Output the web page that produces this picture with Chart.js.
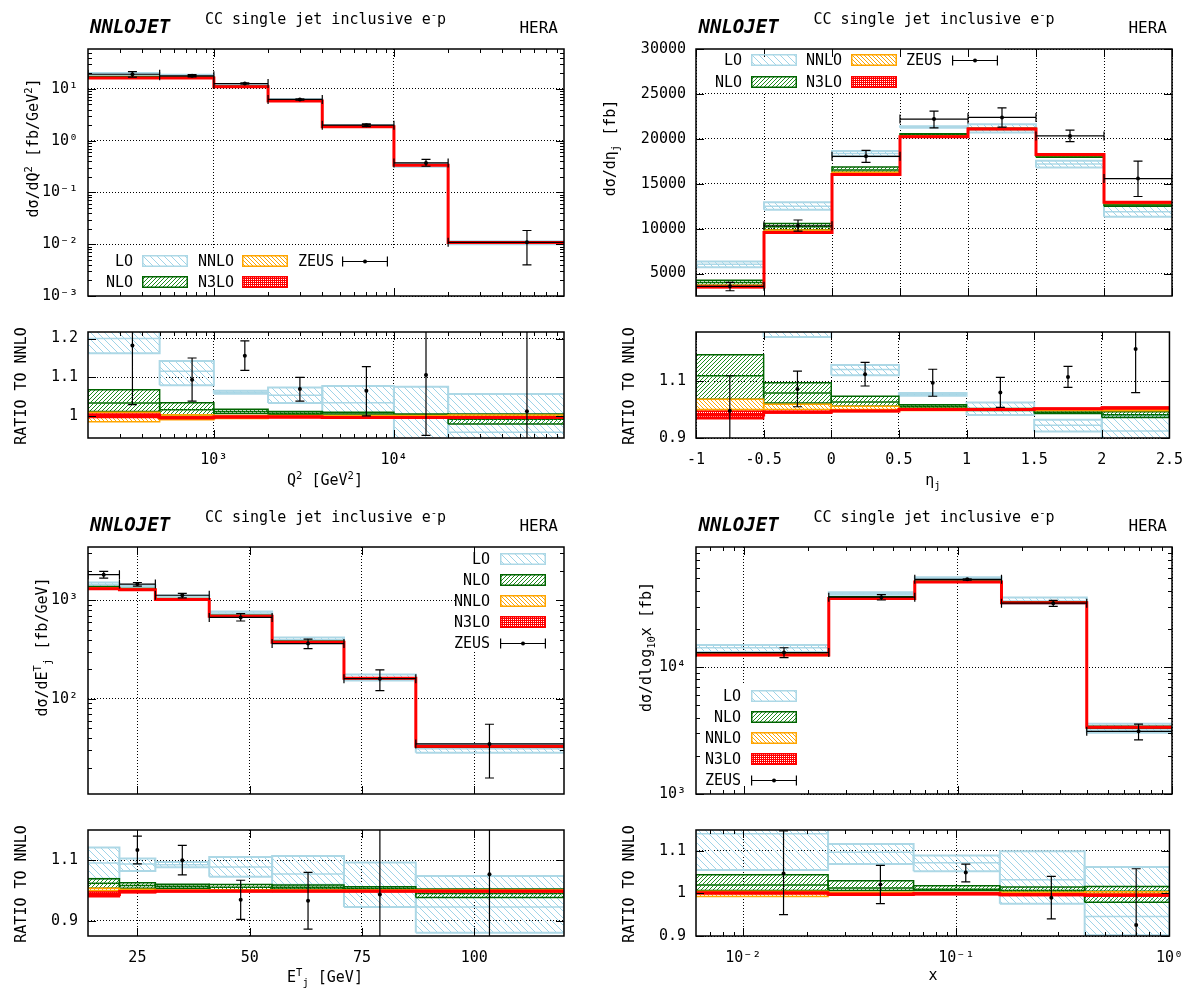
<!DOCTYPE html>
<html>
<head>
<meta charset="utf-8">
<title>CC single jet inclusive e-p</title>
<script src="https://cdn.jsdelivr.net/npm/chart.js@4.4.1/dist/chart.umd.min.js"></script>
<style>
  html, body { margin: 0; padding: 0; background: #fff; }
  body { position: relative; width: 1195px; height: 992px; overflow: hidden;
         font-family: 'DejaVu Sans Mono', monospace; font-size: 15px; color: #000; }
  .abs { position: absolute; white-space: nowrap; }
  .logo { font-weight: bold; font-style: italic; font-size: 19px; line-height: 19px; }
  .ttl { font-size: 15px; line-height: 15px; transform: translateX(-50%); }
  .hera { font-size: 16px; line-height: 16px; text-align: right; }
  .lab { line-height: 18px; height: 18px; text-align: right; }
  .rot { line-height: 18px; transform: translate(-50%, -50%) rotate(-90deg); }
  .ctr { line-height: 18px; transform: translate(-50%, -50%); }
  sup, sub { font-size: 70%; line-height: 0; }
  canvas { position: absolute; }
</style>
</head>
<body>
<script>
// ---------------- Q^2 panel ----------------
const q2Edges = [200, 500, 1000, 2000, 4000, 10000, 20000, 100000];
const q2XTicks = [1000, 10000];
const q2YTicks = [1e-3, 1e-2, 1e-1, 1, 10];
const q2RTicks = [1, 1.1, 1.2];
// [low, central, high] per bin
const q2LO   = [[18.9, 19.6, 20.2], [17.7, 18.3, 18.7], [11.6, 11.7, 11.75], [6.05, 6.17, 6.28], [1.88, 1.935, 2.016], [0.313, 0.337, 0.363], [0.01004, 0.01036, 0.01142]];
const q2NLO  = [[16.5, 16.85, 17.4], [16.47, 16.68, 16.97], [11.08, 11.13, 11.2], [5.87, 5.9, 5.92], [1.874, 1.881, 1.889], [0.337, 0.338, 0.339], [0.01058, 0.01071, 0.01086]];
const q2NNLO = [[16.07, 16.3, 16.46], [16.25, 16.4, 16.47], [10.93, 11.0, 11.02], [5.83, 5.85, 5.86], [1.866, 1.87, 1.874], [0.336, 0.337, 0.338], [0.01077, 0.0108, 0.01083]];
const q2N3LO = [[16.25, 16.33, 16.4], [16.3, 16.33, 16.37], [10.96, 10.98, 11.0], [5.83, 5.84, 5.85], [1.863, 1.866, 1.87], [0.3357, 0.3363, 0.337], [0.01076, 0.01078, 0.0108]];
const q2LOr   = [[1.162, 1.2, 1.24], [1.08, 1.116, 1.142], [1.058, 1.062, 1.066], [1.034, 1.054, 1.074], [1.005, 1.035, 1.078], [0.93, 1.0, 1.076], [0.93, 0.959, 1.057]];
const q2NLOr  = [[1.012, 1.034, 1.068], [1.004, 1.017, 1.035], [1.007, 1.012, 1.018], [1.004, 1.008, 1.012], [1.002, 1.006, 1.010], [1.0, 1.003, 1.006], [0.98, 0.992, 1.006]];
const q2NNLOr = [[0.986, 1.0, 1.010], [0.991, 1.0, 1.004], [0.994, 1.0, 1.002], [0.997, 1.0, 1.002], [0.998, 1.0, 1.002], [0.998, 1.0, 1.002], [0.997, 1.0, 1.003]];
const q2N3LOr = [[0.997, 1.002, 1.006], [0.994, 0.996, 0.998], [0.996, 0.998, 1.0], [0.996, 0.998, 1.0], [0.995, 0.997, 0.999], [0.995, 0.997, 0.999], [0.995, 0.997, 0.999]];
const q2ZeusX = [353, 757, 1486, 3005, 7030, 15070, 54800];
// [value, low, high]
const q2Zeus  = [[19.2, 16.9, 21.6], [17.9, 17.0, 18.9], [12.7, 12.3, 13.1], [6.26, 6.08, 6.44], [1.99, 1.87, 2.11], [0.372, 0.321, 0.434], [0.0109, 0.0040, 0.0184]];
const q2ZeusR = [[1.182, 1.03, 1.36], [1.094, 1.039, 1.15], [1.156, 1.118, 1.194], [1.07, 1.039, 1.10], [1.066, 1.001, 1.128], [1.106, 0.951, 1.26], [1.013, 0.37, 1.70]];

// ---------------- eta_j panel ----------------
const etaEdges = [-1, -0.5, 0, 0.5, 1, 1.5, 2, 2.5];
const etaXTicks = [-1, -0.5, 0, 0.5, 1, 1.5, 2, 2.5];
const etaYTicks = [5000, 10000, 15000, 20000, 25000, 30000];
const etaRTicks = [0.9, 1.1];
const etaLO   = [[5709, 6028, 6348], [12100, 12500, 12950], [18050, 18370, 18630], [21220, 21300, 21400], [20700, 21160, 21630], [16800, 17200, 17545], [11310, 11890, 12570]];
const etaNLO  = [[3700, 3995, 4260], [9880, 10220, 10570], [16290, 16530, 16860], [20350, 20470, 20570], [21040, 21100, 21180], [17950, 18040, 18130], [12490, 12620, 12750]];
const etaNNLO = [[3550, 3570, 3700], [9580, 9660, 9840], [15990, 16100, 16290], [20170, 20230, 20310], [21060, 21100, 21140], [18150, 18200, 18250], [12800, 12850, 12900]];
const etaN3LO = [[3455, 3500, 3550], [9545, 9575, 9600], [15990, 16020, 16050], [20190, 20230, 20270], [21060, 21100, 21140], [18220, 18255, 18290], [12890, 12925, 12965]];
const etaLOr   = [[1.6, 1.69, 1.78], [1.255, 1.295, 1.34], [1.121, 1.141, 1.157], [1.049, 1.053, 1.058], [0.981, 1.003, 1.025], [0.923, 0.945, 0.964], [0.88, 0.925, 0.978]];
const etaNLOr  = [[1.036, 1.119, 1.193], [1.023, 1.058, 1.094], [1.012, 1.027, 1.047], [1.006, 1.012, 1.017], [0.997, 1.0, 1.004], [0.986, 0.991, 0.996], [0.972, 0.982, 0.992]];
const etaNNLOr = [[0.994, 1.0, 1.036], [0.992, 1.0, 1.019], [0.993, 1.0, 1.012], [0.997, 1.0, 1.004], [0.998, 1.0, 1.002], [0.997, 1.0, 1.003], [0.996, 1.0, 1.004]];
const etaN3LOr = [[0.968, 0.981, 0.994], [0.988, 0.991, 0.994], [0.993, 0.995, 0.997], [0.998, 1.0, 1.002], [0.998, 1.0, 1.002], [1.001, 1.003, 1.005], [1.003, 1.006, 1.009]];
const etaZeusX = [-0.75, -0.25, 0.25, 0.75, 1.25, 1.75, 2.25];
const etaZeus  = [[3580, 3085, 4010], [10320, 9720, 10960], [18050, 17380, 18720], [22200, 21210, 23090], [22380, 21310, 23440], [20320, 19680, 20960], [15570, 13580, 17520]];
const etaZeusR = [[0.996, 0.86, 1.119], [1.072, 1.01, 1.135], [1.124, 1.083, 1.166], [1.094, 1.047, 1.142], [1.06, 1.008, 1.113], [1.115, 1.078, 1.152], [1.213, 1.06, 1.37]];

// ---------------- E_T panel ----------------
const etEdges = [14, 21, 29, 41, 55, 71, 87, 120];
const etXTicks = [25, 50, 75, 100];
const etYTicks = [100, 1000];
const etRTicks = [0.9, 1.1];
const etLO   = [[1378, 1447, 1514], [1373, 1402, 1426], [1103, 1111, 1120], [723, 745, 768], [384, 398, 420], [153, 164, 177], [28.4, 31.2, 34.6]];
const etNLO  = [[1337, 1358, 1378], [1299, 1311, 1322], [1032, 1038, 1045], [693, 699, 705], [379, 381, 384], [162.2, 163.1, 164.1], [32.2, 32.7, 33.2]];
const etNNLO = [[1319, 1326, 1337], [1286, 1289, 1294], [1022, 1024, 1026], [690, 691, 692], [376, 377, 378], [161.7, 162, 162.3], [32.93, 33.0, 33.07]];
const etN3LO = [[1299, 1309, 1319], [1280, 1284, 1288], [1020, 1022, 1024], [688, 690, 691], [375.5, 376, 377], [161.4, 161.7, 162], [32.87, 32.93, 33.0]];
const etLOr   = [[1.039, 1.091, 1.142], [1.065, 1.088, 1.106], [1.077, 1.085, 1.094], [1.046, 1.078, 1.111], [1.019, 1.055, 1.114], [0.946, 1.013, 1.093], [0.861, 0.946, 1.048]];
const etNLOr  = [[1.008, 1.024, 1.039], [1.008, 1.017, 1.026], [1.008, 1.014, 1.021], [1.003, 1.011, 1.02], [1.005, 1.011, 1.018], [1.001, 1.007, 1.013], [0.977, 0.99, 1.005]];
const etNNLOr = [[0.995, 1.0, 1.008], [0.998, 1.0, 1.004], [0.998, 1.0, 1.002], [0.998, 1.0, 1.002], [0.998, 1.0, 1.002], [0.998, 1.0, 1.002], [0.998, 1.0, 1.002]];
const etN3LOr = [[0.98, 0.987, 0.995], [0.993, 0.996, 0.999], [0.996, 0.998, 1.0], [0.996, 0.998, 1.0], [0.996, 0.998, 1.0], [0.996, 0.998, 1.0], [0.996, 0.998, 1.0]];
const etZeusX = [17.5, 25, 35, 48, 63, 79, 103.4];
const etZeus  = [[1824, 1683, 1966], [1462, 1397, 1517], [1126, 1061, 1178], [670, 617, 733], [364, 324, 404], [160, 121, 197], [34.8, 15.7, 55.2]];
const etZeusR = [[1.375, 1.27, 1.48], [1.134, 1.088, 1.18], [1.1, 1.052, 1.149], [0.97, 0.905, 1.034], [0.966, 0.873, 1.06], [0.987, 0.70, 1.30], [1.054, 0.60, 1.50]];

// ---------------- x panel ----------------
const xEdges = [0.006, 0.025, 0.063, 0.16, 0.4, 1.0];
const xXTicks = [0.01, 0.1, 1];
const xYTicks = [1000, 10000];
const xRTicks = [0.9, 1, 1.1];
const xLO   = [[13140, 14200, 14950], [37240, 38220, 38880], [49340, 50280, 51070], [31450, 33250, 35410], [3040, 3190, 3580]];
const xNLO  = [[12540, 12700, 13000], [35080, 35290, 35890], [47230, 47370, 47740], [32320, 32450, 32700], [3300, 3387, 3424]];
const xNNLO = [[12370, 12455, 12520], [34740, 34840, 34940], [46810, 46900, 46990], [32120, 32220, 32320], [3357, 3370, 3383]];
const xN3LO = [[12440, 12470, 12490], [34700, 34770, 34840], [46760, 46850, 46950], [32060, 32120, 32190], [3350, 3357, 3363]];
const xLOr   = [[1.055, 1.14, 1.2], [1.069, 1.097, 1.116], [1.052, 1.072, 1.089], [0.976, 1.032, 1.099], [0.902, 0.946, 1.062]];
const xNLOr  = [[1.007, 1.02, 1.044], [1.007, 1.013, 1.03], [1.007, 1.01, 1.018], [1.003, 1.007, 1.015], [0.979, 1.005, 1.016]];
const xNNLOr = [[0.993, 1.0, 1.005], [0.997, 1.0, 1.003], [0.998, 1.0, 1.002], [0.997, 1.0, 1.003], [0.996, 1.0, 1.004]];
const xN3LOr = [[0.999, 1.001, 1.003], [0.996, 0.998, 1.0], [0.997, 0.999, 1.001], [0.995, 0.997, 0.999], [0.994, 0.996, 0.998]];
const xZeusX = [0.01545, 0.044, 0.1107, 0.279, 0.698];
const xZeus  = [[13040, 11890, 14220], [35570, 33830, 37240], [49200, 48400, 49600], [31900, 30150, 33600], [3120, 2668, 3555]];
const xZeusR = [[1.047, 0.95, 1.147], [1.021, 0.976, 1.066], [1.049, 1.027, 1.069], [0.99, 0.94, 1.04], [0.926, 0.80, 1.058]];

// ---------------- styling helpers ----------------
const FONT = "'DejaVu Sans Mono', monospace";
Chart.defaults.font.family = FONT;
Chart.defaults.font.size = 15;
Chart.defaults.color = '#000';

function makeTile(w, h, draw) {
  const c = document.createElement('canvas');
  c.width = w; c.height = h;
  draw(c.getContext('2d'));
  return c;
}
function hatchTile(color, s, slash) {
  return makeTile(s, s, g => {
    g.strokeStyle = color; g.lineWidth = 1; g.beginPath();
    for (let k = -1; k <= 1; k++) {
      if (slash) { g.moveTo(k * s, s); g.lineTo(k * s + s, 0); }
      else { g.moveTo(k * s, 0); g.lineTo(k * s + s, s); }
    }
    g.stroke();
  });
}
const STYLE = {
  LO:   { tile: hatchTile('#9fd4e8', 7, false), edge: '#add8e6', w: 2 },
  NLO:  { tile: hatchTile('#1e8c1e', 4, true), edge: '#006400', w: 1.5 },
  NNLO: { tile: hatchTile('#ffa500', 4, false), edge: '#ffa500', w: 1.5 },
  N3LO: { tile: makeTile(2, 2, g => { g.fillStyle = '#ff0000'; g.fillRect(0, 0, 2, 2); g.fillStyle = '#ffffff'; g.fillRect(1, 1, 1, 1); }), edge: '#ff0000', w: 1.5 }
};
const ORDER_NAMES = ['LO', 'NLO', 'NNLO', 'N3LO'];
const patCtx = document.createElement('canvas').getContext('2d');

const SUPS = { '-': '\u207B', '0': '\u2070', '1': '\u00B9', '2': '\u00B2', '3': '\u00B3', '4': '\u2074', '5': '\u2075', '6': '\u2076', '7': '\u2077', '8': '\u2078', '9': '\u2079' };
const pow10 = v => '10' + String(Math.round(Math.log10(v))).split('').map(ch => SUPS[ch]).join('');
const plain = v => String(v);

function logMinors(min, max) {
  const out = [];
  for (let k = Math.floor(Math.log10(min)); k <= Math.ceil(Math.log10(max)); k++) {
    for (let m = 2; m <= 9; m++) {
      const v = m * Math.pow(10, k);
      if (v > min && v < max) out.push(v);
    }
  }
  return out;
}

// ---------------- plugins ----------------
const legendBgPlugin = {
  id: 'legendBg',
  beforeDatasetsDraw(chart, args, opts) {
    if (!opts.box) return;
    const b = opts.box;
    chart.ctx.save();
    chart.ctx.fillStyle = '#fff';
    chart.ctx.fillRect(b.x, b.y, b.w, b.h);
    chart.ctx.restore();
  }
};

const errorBarPlugin = {
  id: 'errorBars',
  afterDatasetsDraw(chart) {
    const { ctx, chartArea: a, scales: { x, y } } = chart;
    ctx.save();
    ctx.beginPath();
    ctx.rect(a.left, a.top, a.right - a.left, a.bottom - a.top);
    ctx.clip();
    ctx.strokeStyle = '#000';
    ctx.lineWidth = 1.2;
    ctx.beginPath();
    chart.data.datasets.forEach(ds => {
      if (!ds.errorBars) return;
      ds.data.forEach(p => {
        const px = x.getPixelForValue(p.x), py = y.getPixelForValue(p.y);
        const ylo = y.getPixelForValue(p.yMin), yhi = y.getPixelForValue(p.yMax);
        ctx.moveTo(px, ylo); ctx.lineTo(px, yhi);
        ctx.moveTo(px - 4.5, ylo); ctx.lineTo(px + 4.5, ylo);
        ctx.moveTo(px - 4.5, yhi); ctx.lineTo(px + 4.5, yhi);
        if (p.xMin != null) {
          const xlo = x.getPixelForValue(p.xMin), xhi = x.getPixelForValue(p.xMax);
          ctx.moveTo(xlo, py); ctx.lineTo(xhi, py);
          ctx.moveTo(xlo, py - 4.5); ctx.lineTo(xlo, py + 4.5);
          ctx.moveTo(xhi, py - 4.5); ctx.lineTo(xhi, py + 4.5);
        }
      });
    });
    ctx.stroke();
    ctx.restore();
  }
};

const framePlugin = {
  id: 'frame',
  afterDraw(chart, args, opts) {
    const { ctx, chartArea: a, scales: { x, y } } = chart;
    ctx.save();
    ctx.strokeStyle = '#000';
    ctx.lineWidth = 1;
    ctx.beginPath();
    const tickX = (vals, len) => vals.forEach(v => {
      if (v < x.min || v > x.max) return;
      const p = Math.round(x.getPixelForValue(v)) + 0.5;
      ctx.moveTo(p, a.bottom); ctx.lineTo(p, a.bottom - len);
      ctx.moveTo(p, a.top); ctx.lineTo(p, a.top + len);
    });
    const tickY = (vals, len) => vals.forEach(v => {
      if (v < y.min || v > y.max) return;
      const p = Math.round(y.getPixelForValue(v)) + 0.5;
      ctx.moveTo(a.left, p); ctx.lineTo(a.left + len, p);
      ctx.moveTo(a.right, p); ctx.lineTo(a.right - len, p);
    });
    tickX(x.ticks.map(t => t.value), 8);
    tickX(opts.xMinor || [], 4);
    tickY(y.ticks.map(t => t.value), 8);
    tickY(opts.yMinor || [], 4);
    ctx.stroke();
    ctx.lineWidth = 1.5;
    ctx.strokeRect(a.left, a.top, a.right - a.left, a.bottom - a.top);
    ctx.restore();
  }
};

// ---------------- dataset builders ----------------
function bandDatasets(edges, bands) {
  const sets = [];
  bands.forEach((band, k) => {
    const st = STYLE[ORDER_NAMES[k]];
    const pattern = patCtx.createPattern(st.tile, 'repeat');
    const order = 10 - 2 * k;
    band.forEach(([lo, mid, hi], i) => {
      const x0 = edges[i], x1 = edges[i + 1];
      sets.push({
        data: [{ x: x0, y: lo }, { x: x0, y: hi }, { x: x1, y: hi }, { x: x1, y: lo }, { x: x0, y: lo }],
        fill: 'shape', backgroundColor: pattern, borderColor: st.edge, borderWidth: st.w, order
      });
      if (k < 3) {
        sets.push({
          data: [{ x: x0, y: mid }, { x: x1, y: mid }],
          fill: false, borderColor: st.edge, borderWidth: 1.5, order
        });
      }
    });
    if (k === 3) {
      const pts = band.map((b, i) => ({ x: edges[i], y: b[1] }));
      pts.push({ x: edges[band.length], y: band[band.length - 1][1] });
      sets.push({ data: pts, stepped: true, fill: false, borderColor: '#ff0000', borderWidth: 3, order: 1 });
    }
  });
  return sets;
}

function zeusDataset(xs, vals, edges) {
  return {
    data: xs.map((x, i) => ({
      x, y: vals[i][0], yMin: vals[i][1], yMax: vals[i][2],
      xMin: edges ? edges[i] : null, xMax: edges ? edges[i + 1] : null
    })),
    showLine: false, pointRadius: 2, pointBackgroundColor: '#000', pointBorderWidth: 0,
    errorBars: true, order: 0
  };
}

function makeChart(rect, c) {
  const PADL = 80, PADT = 12, PADR = 24, PADB = c.xLabels ? 48 : 14;
  const W = rect.r - rect.l + PADL + PADR, H = rect.b - rect.t + PADT + PADB;
  const left = rect.l - PADL, top = rect.t - PADT;
  const cv = document.createElement('canvas');
  cv.width = W; cv.height = H;
  cv.style.left = left + 'px'; cv.style.top = top + 'px';
  cv.style.width = W + 'px'; cv.style.height = H + 'px';
  document.body.appendChild(cv);

  const box = c.box ? { x: c.box.l - left, y: c.box.t - top, w: c.box.r - c.box.l, h: c.box.b - c.box.t } : null;
  const grid = { color: '#000', lineWidth: 1, drawTicks: false };
  const border = { display: false, dash: [1, 2] };

  return new Chart(cv, {
    type: 'line',
    data: { datasets: [...bandDatasets(c.edges, c.bands), zeusDataset(c.zx, c.z, c.zEdges)] },
    options: {
      responsive: false, animation: false, devicePixelRatio: 1, events: [],
      layout: { padding: { left: 0, top: PADT, right: PADR, bottom: 0 } },
      elements: { point: { radius: 0 }, line: { tension: 0 } },
      plugins: {
        legend: { display: false }, tooltip: { enabled: false },
        frame: { xMinor: c.xMinor, yMinor: c.yMinor },
        legendBg: { box }
      },
      scales: {
        x: {
          type: c.xType, min: c.xMin, max: c.xMax, bounds: 'data',
          afterBuildTicks: s => { s.ticks = c.xTicks.map(v => ({ value: v })); },
          afterFit: s => { s.height = PADB; },
          ticks: { display: !!c.xLabels, callback: c.xFmt, padding: 13, maxRotation: 0, autoSkip: false, color: '#000', font: { family: FONT, size: 15 } },
          grid, border
        },
        y: {
          type: c.yType, min: c.yMin, max: c.yMax, bounds: 'data',
          afterBuildTicks: s => { s.ticks = c.yTicks.map(v => ({ value: v })); },
          afterFit: s => { s.width = PADL; },
          ticks: { callback: c.yFmt, padding: 10, autoSkip: false, color: '#000', font: { family: FONT, size: 15 } },
          grid, border
        }
      }
    },
    plugins: [legendBgPlugin, errorBarPlugin, framePlugin]
  });
}

// ---------------- HTML text helpers ----------------
function addText(html, cls, css) {
  const d = document.createElement('div');
  d.className = 'abs ' + cls;
  d.innerHTML = html;
  for (const k in css) d.style[k] = typeof css[k] === 'number' ? css[k] + 'px' : css[k];
  document.body.appendChild(d);
  return d;
}
function swatch(name, x, y) {
  const c = document.createElement('canvas');
  c.width = 46; c.height = 12;
  c.style.left = x + 'px'; c.style.top = (y - 6) + 'px';
  const g = c.getContext('2d');
  if (name === 'ZEUS') {
    g.strokeStyle = '#000'; g.lineWidth = 1.2; g.beginPath();
    g.moveTo(0, 6.5); g.lineTo(46, 6.5);
    g.moveTo(0.6, 1.5); g.lineTo(0.6, 11.5);
    g.moveTo(45.4, 1.5); g.lineTo(45.4, 11.5);
    g.stroke();
    g.fillStyle = '#000'; g.beginPath(); g.arc(23, 6.5, 2, 0, Math.PI * 2); g.fill();
  } else {
    const st = STYLE[name];
    g.fillStyle = g.createPattern(st.tile, 'repeat');
    g.fillRect(0, 0, 46, 12);
    g.strokeStyle = st.edge; g.lineWidth = 1.5;
    g.strokeRect(0.75, 0.75, 44.5, 10.5);
  }
  document.body.appendChild(c);
}
function legend(items) {
  items.forEach(([name, tx, sx, y]) => {
    addText(name, 'lab', { left: tx - 60, width: 60, top: y - 9 });
    swatch(name, sx, y);
  });
}
function header(xl, xc, xr, yb) {
  addText('NNLOJET', 'logo', { left: xl, top: yb - 16.1 });
  addText('CC single jet inclusive e<sup>-</sup>p', 'ttl', { left: xc, top: yb - 8.5 - 12.7 });
  addText('HERA', 'hera', { left: xr - 60, width: 60, top: yb - 13.5 });
}

// ---------------- panels ----------------
const panels = [
  {
    main: { l: 88, t: 42, r: 564, b: 301 }, ratio: { l: 88, t: 325, r: 564, b: 438 },
    edges: q2Edges, xType: 'logarithmic', xMin: 200, xMax: 88000, xTicks: q2XTicks, xFmt: pow10, xMinor: logMinors(200, 88000),
    yType: 'logarithmic', yMin: 1e-3, yMax: 59, yTicks: q2YTicks, yFmt: pow10, yMinor: logMinors(1e-3, 59),
    rMin: 0.944, rMax: 1.217, rTicks: q2RTicks,
    bands: [q2LO, q2NLO, q2NNLO, q2N3LO], rbands: [q2LOr, q2NLOr, q2NNLOr, q2N3LOr],
    zx: q2ZeusX, z: q2Zeus, zr: q2ZeusR,
    box: { l: 89, t: 248, r: 398, b: 300 }
  },
  {
    main: { l: 696, t: 42, r: 1172, b: 301 }, ratio: { l: 696, t: 325, r: 1172, b: 438 },
    edges: etaEdges, xType: 'linear', xMin: -1, xMax: 2.5, xTicks: etaXTicks, xFmt: plain, xMinor: [],
    yType: 'linear', yMin: 2500, yMax: 30000, yTicks: etaYTicks, yFmt: plain, yMinor: [],
    rMin: 0.9, rMax: 1.273, rTicks: etaRTicks,
    bands: [etaLO, etaNLO, etaNNLO, etaN3LO], rbands: [etaLOr, etaNLOr, etaNNLOr, etaN3LOr],
    zx: etaZeusX, z: etaZeus, zr: etaZeusR,
    box: { l: 697, t: 43, r: 1004, b: 93 }
  },
  {
    main: { l: 88, t: 540, r: 564, b: 799 }, ratio: { l: 88, t: 823, r: 564, b: 936 },
    edges: etEdges, xType: 'linear', xMin: 14, xMax: 120, xTicks: etXTicks, xFmt: plain, xMinor: [],
    yType: 'logarithmic', yMin: 10.8, yMax: 3480, yTicks: etYTicks, yFmt: pow10, yMinor: logMinors(10.8, 3480),
    rMin: 0.85, rMax: 1.2, rTicks: etRTicks,
    bands: [etLO, etNLO, etNNLO, etN3LO], rbands: [etLOr, etNLOr, etNNLOr, etN3LOr],
    zx: etZeusX, z: etZeus, zr: etZeusR,
    box: { l: 455, t: 541, r: 563, b: 652 }
  },
  {
    main: { l: 696, t: 540, r: 1172, b: 799 }, ratio: { l: 696, t: 823, r: 1172, b: 936 },
    edges: xEdges, xType: 'logarithmic', xMin: 0.006, xMax: 1, xTicks: xXTicks, xFmt: pow10, xMinor: logMinors(0.006, 1),
    yType: 'logarithmic', yMin: 1000, yMax: 88500, yTicks: xYTicks, yFmt: pow10, yMinor: logMinors(1000, 88500),
    rMin: 0.9, rMax: 1.149, rTicks: xRTicks,
    bands: [xLO, xNLO, xNNLO, xN3LO], rbands: [xLOr, xNLOr, xNNLOr, xN3LOr],
    zx: xZeusX, z: xZeus, zr: xZeusR,
    box: { l: 697, t: 685, r: 800, b: 798 }
  }
];

panels.forEach(p => {
  makeChart(p.main, {
    edges: p.edges, bands: p.bands, zx: p.zx, z: p.z, zEdges: p.edges,
    xType: p.xType, xMin: p.xMin, xMax: p.xMax, xTicks: p.xTicks, xFmt: p.xFmt, xMinor: p.xMinor, xLabels: false,
    yType: p.yType, yMin: p.yMin, yMax: p.yMax, yTicks: p.yTicks, yFmt: p.yFmt, yMinor: p.yMinor,
    box: p.box
  });
  makeChart(p.ratio, {
    edges: p.edges, bands: p.rbands, zx: p.zx, z: p.zr, zEdges: null,
    xType: p.xType, xMin: p.xMin, xMax: p.xMax, xTicks: p.xTicks, xFmt: p.xFmt, xMinor: p.xMinor, xLabels: true,
    yType: 'linear', yMin: p.rMin, yMax: p.rMax, yTicks: p.rTicks, yFmt: plain, yMinor: [],
    box: null
  });
});

// headers
header(90, 325.5, 558, 33.3);
header(698.5, 934, 1167, 33.3);
header(90, 325.5, 558, 531.5);
header(698.5, 934, 1167, 531.5);

// axis titles
addText('d\u03C3/dQ<sup>2</sup> [fb/GeV<sup>2</sup>]', 'rot', { left: 32.5, top: 148 });
addText('RATIO TO NNLO', 'rot', { left: 21, top: 386 });
addText('Q<sup>2</sup> [GeV<sup>2</sup>]', 'ctr', { left: 325, top: 480 });

addText('d\u03C3/d\u03B7<sub>j</sub> [fb]', 'rot', { left: 609.5, top: 148 });
addText('RATIO TO NNLO', 'rot', { left: 628.5, top: 386 });
addText('\u03B7<sub>j</sub>', 'ctr', { left: 933, top: 480 });

addText('d\u03C3/dE<sup>T</sup><sub>j</sub> [fb/GeV]', 'rot', { left: 41.5, top: 647 });
addText('RATIO TO NNLO', 'rot', { left: 21, top: 884 });
addText('E<sup>T</sup><sub>j</sub> [GeV]', 'ctr', { left: 325, top: 977 });

addText('d\u03C3/dlog<sub>10</sub>x [fb]', 'rot', { left: 645.5, top: 647 });
addText('RATIO TO NNLO', 'rot', { left: 628.5, top: 884 });
addText('x', 'ctr', { left: 933, top: 975 });

// legends: [name, text right edge, swatch left, row centre]
legend([['LO', 133, 142, 261], ['NNLO', 234, 242, 261], ['ZEUS', 334, 342, 261], ['NLO', 133, 142, 282], ['N3LO', 234, 242, 282]]);
legend([['LO', 742, 751, 60], ['NNLO', 842, 851, 60], ['ZEUS', 942, 952, 60], ['NLO', 742, 751, 81.5], ['N3LO', 842, 851, 81.5]]);
legend([['LO', 490, 500, 558.5], ['NLO', 490, 500, 579.5], ['NNLO', 490, 500, 600.5], ['N3LO', 490, 500, 621.5], ['ZEUS', 490, 500, 642.5]]);
legend([['LO', 741, 751, 695.5], ['NLO', 741, 751, 716.5], ['NNLO', 741, 751, 737.5], ['N3LO', 741, 751, 759], ['ZEUS', 741, 751, 780]]);
</script>
</body>
</html>
